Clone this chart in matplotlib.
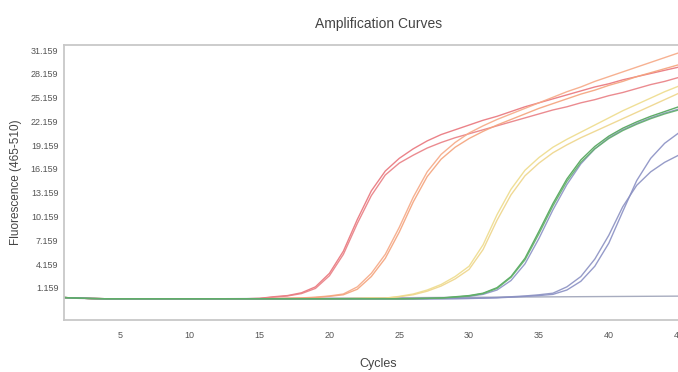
import matplotlib
matplotlib.use("Agg")
import matplotlib.pyplot as plt
import numpy as np

# cycle numbers 1..45
cycles = np.arange(1, 46)

# fluorescence readings per cycle
base = [-0.05, -0.12, -0.17, -0.2, -0.2, -0.2, -0.2, -0.2, -0.2, -0.2,
        -0.2, -0.2, -0.2, -0.2]

red_a = base + [-0.15, 0.05, 0.2, 0.55, 1.3, 3.0, 5.8, 9.8, 13.4, 15.9, 17.5, 18.7,
                19.7, 20.5, 21.1, 21.7, 22.3, 22.8, 23.4, 24.0, 24.5, 25.0, 25.5,
                26.0, 26.5, 26.9, 27.4, 27.8, 28.2, 28.6, 29.0]
red_b = base + [-0.17, 0.0, 0.15, 0.45, 1.1, 2.7, 5.4, 9.3, 12.8, 15.4, 16.9, 17.9,
                18.8, 19.5, 20.1, 20.6, 21.1, 21.6, 22.1, 22.6, 23.1, 23.6, 24.0,
                24.5, 24.9, 25.4, 25.8, 26.3, 26.8, 27.2, 27.7]
orange_a = base + [-0.2, -0.17, -0.14, -0.1, 0.0, 0.15, 0.4, 1.3, 3.0, 5.4, 8.8,
                   12.6, 15.8, 18.0, 19.5, 20.7, 21.6, 22.4, 23.1, 23.8, 24.5, 25.2,
                   25.9, 26.5, 27.2, 27.8, 28.4, 29.0, 29.6, 30.2, 30.8]
orange_b = base + [-0.2, -0.18, -0.15, -0.12, -0.05, 0.1, 0.3, 1.0, 2.6, 4.9, 8.2,
                   12.0, 15.2, 17.4, 18.9, 20.0, 20.9, 21.7, 22.4, 23.1, 23.8, 24.4,
                   25.0, 25.6, 26.1, 26.7, 27.2, 27.8, 28.3, 28.8, 29.3]
yellow_a = base + [-0.2, -0.2, -0.2, -0.2, -0.2, -0.2, -0.18, -0.15, -0.1, -0.15,
                   0.1, 0.4, 0.9, 1.6, 2.6, 3.9, 6.6, 10.4, 13.6, 16.0, 17.6, 18.9,
                   19.9, 20.8, 21.7, 22.6, 23.5, 24.3, 25.1, 25.9, 26.6]
yellow_b = base + [-0.2, -0.2, -0.2, -0.2, -0.2, -0.2, -0.19, -0.17, -0.13, -0.1,
                   0.05, 0.3, 0.75, 1.4, 2.3, 3.5, 6.0, 9.7, 12.9, 15.3, 16.9, 18.2,
                   19.2, 20.1, 20.9, 21.7, 22.5, 23.3, 24.1, 24.9, 25.7]
green_a = base + [-0.2] * 11 + [-0.18, -0.15, -0.1, 0.05, 0.2, 0.5, 1.2, 2.6,
                                4.9, 8.3, 11.8, 14.9, 17.3, 19.0, 20.3, 21.3, 22.1,
                                22.8, 23.4, 24.0]
green_b = base + [-0.2] * 11 + [-0.19, -0.16, -0.12, 0.0, 0.15, 0.45, 1.1, 2.5,
                                4.7, 8.0, 11.5, 14.6, 17.0, 18.7, 20.0, 21.0, 21.8,
                                22.5, 23.1, 23.6]
blue_a = base + [-0.2] * 11 + [-0.2, -0.18, -0.14, -0.05, 0.1, 0.35, 0.9, 2.1,
                               4.2, 7.4, 11.0, 14.2, 16.8, 18.7, 20.1, 21.1, 21.9,
                               22.6, 23.2, 23.7]
blue_b = base + [-0.2] * 11 + [-0.2, -0.2, -0.2, -0.18, -0.15, -0.1, -0.05,
                               0.05, 0.15, 0.3, 0.5, 1.3, 2.6, 4.8, 7.8, 11.4, 14.1,
                               15.8, 17.0, 17.9]
blue_c = base + [-0.2] * 11 + [-0.2, -0.2, -0.2, -0.19, -0.17, -0.13, -0.09,
                               0.0, 0.1, 0.2, 0.35, 0.9, 2.0, 3.9, 6.8, 10.8, 14.7,
                               17.5, 19.4, 20.7]
# negative control
flat = [-0.05, -0.15, -0.2, -0.25, -0.25, -0.25, -0.25, -0.24, -0.23, -0.22,
        -0.21, -0.2, -0.19, -0.18, -0.17, -0.16, -0.15, -0.14, -0.13, -0.12,
        -0.11, -0.1, -0.09, -0.08, -0.07, -0.06, -0.05, -0.04, -0.03, -0.02,
        -0.01, 0.0, 0.01, 0.02, 0.03, 0.04, 0.05, 0.06, 0.07, 0.08,
        0.09, 0.1, 0.11, 0.12, 0.13]

y_ticks = [1.159, 4.159, 7.159, 10.159, 13.159, 16.159, 19.159, 22.159,
           25.159, 28.159, 31.159]
x_ticks = [5, 10, 15, 20, 25, 30, 35, 40, 45]

series = [
    (flat, "#9ea3b8"),
    (red_a, "#e9757c"), (red_b, "#e97f84"),
    (orange_a, "#f6a986"), (orange_b, "#f4a37c"),
    (yellow_a, "#eedc8c"), (yellow_b, "#eed58a"),
    (blue_c, "#8a90c4"), (blue_b, "#8b91c2"), (blue_a, "#8c92c6"),
    (green_a, "#4ea457"), (green_b, "#62b06a"),
]

plt.rcParams['font.family'] = ['Liberation Sans', 'DejaVu Sans']

fig = plt.figure(figsize=(6.78, 3.72), dpi=100)
ax = fig.add_axes([64 / 678, 52 / 372, 628.6 / 678, 275 / 372])

for vals, col in series:
    ax.plot(cycles, vals, color=col, linewidth=1.0, alpha=0.9,
            solid_joinstyle='round')

ax.set_xlim(1, 46)
ax.set_ylim(-2.88, 31.79)
ax.set_xticks(x_ticks)
ax.set_yticks(y_ticks)
ax.set_yticklabels([f"{v:.3f}" for v in y_ticks])
ax.tick_params(axis='both', length=0, labelsize=6.5, colors="#555555")
ax.tick_params(axis='x', pad=8)
ax.tick_params(axis='y', pad=4)
for sp in ax.spines.values():
    sp.set_color("#c8c8c8")
    sp.set_linewidth(1.3)

ax.set_title("Amplification Curves", fontsize=10, color="#444444", pad=12)
ax.set_xlabel("Cycles", fontsize=9, color="#444444", labelpad=13)
ax.set_ylabel("Fluorescence (465-510)", fontsize=8.5, color="#444444", labelpad=6)

fig.savefig("out.png", dpi=100)
